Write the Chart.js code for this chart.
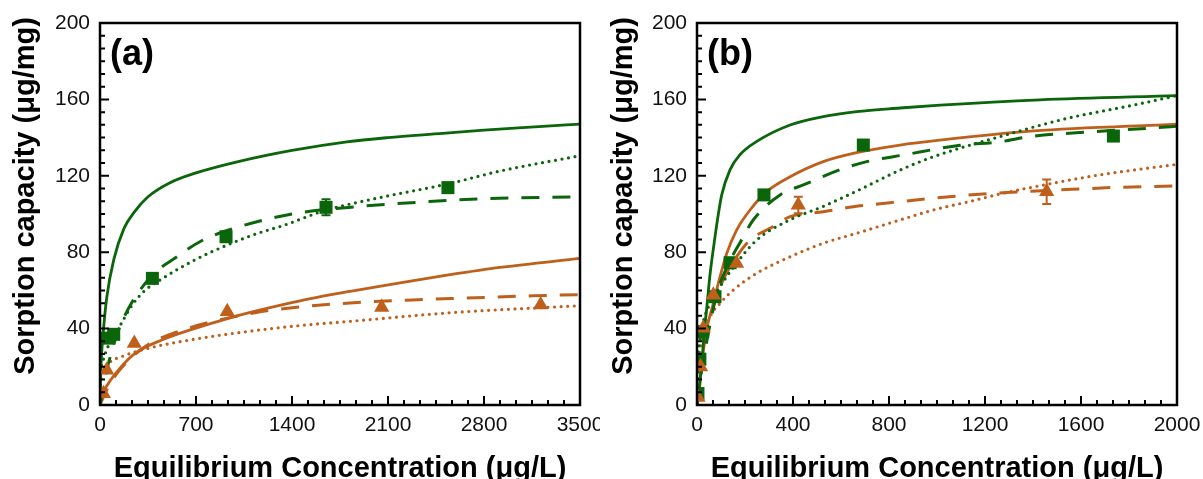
<!DOCTYPE html>
<html>
<head>
<meta charset="utf-8">
<title>Sorption isotherms</title>
<script src="https://cdn.jsdelivr.net/npm/chart.js@4.4.1/dist/chart.umd.min.js"></script>
<style>
  body { margin: 0; background: #fff; }
  .panel { position: absolute; top: 0; }
  #chartA { left: 0; }
  #chartB { left: 600px; }
</style>
</head>
<body>
<canvas id="chartA" class="panel" width="600" height="479"></canvas>
<canvas id="chartB" class="panel" width="603" height="479"></canvas>
<script>
const GREEN = "#0b660b";
const ORANGE = "#bf5f1c";
const FONT = '"Liberation Sans", Arial, sans-serif';

const yTicks = [0, 40, 80, 120, 160, 200];
const xTicksA = [0, 700, 1400, 2100, 2800, 3500];
const xTicksB = [0, 400, 800, 1200, 1600, 2000];

// ---- panel (a): measured points ----
const aGreenX = [55, 100, 382, 919, 1648, 2537];
const aGreenY = [35, 37, 66.3, 88.1, 103.5, 113.8];
const aGreenErr = [0, 0, 0, 0, 4.2, 2.5];
const aOrangeX = [25, 49, 250, 928, 2054, 3213];
const aOrangeY = [6, 18.3, 32.3, 48.9, 51.1, 52.4];
const aOrangeErr = [0, 0, 0, 0, 0, 0];

// ---- panel (a): model curves ----
const aGreenSolidX = [0, 5, 25, 50, 100, 175, 250, 350, 500, 700, 1000, 1400, 1800, 2100, 2500, 2800, 3200, 3500];
const aGreenSolidY = [0, 16, 39, 56.7, 76, 92.5, 101, 109, 116, 121.5, 127.3, 133.3, 137.8, 140, 142.2, 143.9, 145.7, 147.1];
const aGreenDashX = [0, 25, 50, 100, 134, 231, 389, 559, 741, 1000, 1400, 1900, 2400, 2800, 3500];
const aGreenDashY = [0, 10, 18.5, 31.5, 39, 53.5, 68.5, 77.5, 86, 93, 100, 104, 106.5, 108, 109];
const aGreenDotX = [0, 5, 25, 61, 158, 231, 328, 450, 693, 936, 1155, 1337, 1648, 2067, 2552, 2917, 3500];
const aGreenDotY = [0, 15, 24, 31, 43, 52, 60, 66, 76, 84, 90, 94, 102, 109, 116, 122.5, 130.5];
const aOrangeSolidX = [0, 12, 61, 134, 255, 450, 693, 936, 1155, 1458, 1823, 2188, 2552, 2917, 3500];
const aOrangeSolidY = [0, 4.4, 11.3, 18.3, 27, 34, 40.1, 45.4, 49.5, 54.5, 59.5, 64, 68.2, 72, 76.8];
const aOrangeDashX = [0, 50, 134, 328, 571, 1131, 1458, 1946, 2383, 2675, 3160, 3500];
const aOrangeDashY = [0, 8, 17.5, 30.5, 38.5, 48.3, 51.3, 54, 55.3, 56, 57.2, 57.8];
const aOrangeDotX = [0, 3, 12, 61, 158, 352, 693, 1155, 1458, 1823, 2552, 3500];
const aOrangeDotY = [0, 10, 14.5, 21.5, 25.3, 29.7, 34.5, 39.2, 41.6, 43.8, 48.3, 52];

// ---- panel (b): measured points ----
const bGreenX = [4, 12, 24, 75, 138, 279, 693, 1735];
const bGreenY = [6, 24, 38.4, 56.7, 74.5, 110, 136.1, 140.8];
const bGreenErr = [0, 0, 0, 0, 0, 0, 0, 0];
const bOrangeX = [4, 15, 26, 68, 165, 422, 1457];
const bOrangeY = [4, 20, 40.2, 57.6, 74.2, 104.7, 111.7];
const bOrangeErr = [0, 0, 0, 0, 0, 4.3, 6.4];

// ---- panel (b): model curves ----
const bGreenSolidX = [0, 10, 20, 30, 40, 54, 75, 89, 103, 137, 179, 249, 388, 526, 665, 846, 1013, 1429, 2000];
const bGreenSolidY = [0, 10, 22, 38, 50, 68, 88, 100, 110, 123, 131, 138, 146.6, 151, 153.6, 155.5, 157, 159.8, 162];
const bGreenDashX = [0, 10, 20, 40, 82, 124, 179, 235, 346, 443, 596, 707, 874, 1096, 1262, 1387, 1651, 1915, 2000];
const bGreenDashY = [0, 10, 18.5, 33, 58, 72, 85, 97, 110, 115.2, 123.2, 127.4, 131.2, 136, 137.8, 140.5, 143.1, 145.2, 146];
const bGreenDotX = [0, 3, 10, 25, 50, 96, 151, 249, 388, 526, 665, 846, 985, 1262, 1540, 1818, 2000];
const bGreenDotY = [0, 20, 32, 43, 52, 62, 72, 86.4, 97, 104, 112, 123, 130, 140.5, 150, 157, 162];
const bOrangeSolidX = [0, 10, 20, 40, 68, 96, 124, 165, 221, 290, 388, 526, 665, 846, 1013, 1401, 2000];
const bOrangeSolidY = [0, 8, 21.8, 39.3, 53.2, 67.2, 79.4, 91.6, 102.1, 111.7, 119.5, 127.4, 132.1, 136.1, 138.7, 143.5, 147.1];
const bOrangeDashX = [0, 10, 25, 60, 100, 165, 221, 304, 388, 526, 651, 804, 1082, 1290, 1512, 1763, 2000];
const bOrangeDashY = [0, 12, 26, 48, 63, 77.6, 86.4, 92.5, 98.6, 101.2, 103.8, 105.9, 109.4, 111.2, 112.6, 114, 114.7];
const bOrangeDotX = [0, 3, 10, 54, 96, 151, 249, 388, 526, 665, 846, 985, 1151, 1262, 1457, 1679, 2000];
const bOrangeDotY = [0, 19, 27, 46, 53.2, 60.2, 69, 77.6, 84.7, 89.9, 96.9, 102.1, 107, 110.5, 115.5, 120.5, 126];

function pts(xs, ys) {
  return xs.map((x, i) => ({ x: x, y: ys[i] }));
}

const lineStyles = {
  solid: { borderWidth: 2.8, borderDash: [], borderCapStyle: "butt" },
  dash: { borderWidth: 3, borderDash: [18, 13], borderCapStyle: "butt" },
  dot: { borderWidth: 3.2, borderDash: [0, 6.6], borderCapStyle: "round" },
};

function curve(xs, ys, color, style) {
  return Object.assign({
    data: pts(xs, ys),
    showLine: true,
    borderColor: color,
    pointRadius: 0,
    cubicInterpolationMode: "monotone",
    order: 2,
  }, lineStyles[style]);
}

// lower order is painted later, so triangles end up above squares
function markers(xs, ys, errs, color, shape, order) {
  return {
    data: pts(xs, ys),
    errors: errs,
    showLine: false,
    pointStyle: shape,
    pointRadius: shape === "rect" ? 9.2 : 8.8,
    pointBackgroundColor: color,
    pointBorderColor: color,
    pointBorderWidth: 0,
    order: order,
  };
}

// vertical error bars with caps
const errorBars = {
  id: "errorBars",
  afterDatasetsDraw(chart) {
    const ctx = chart.ctx;
    const xs = chart.scales.x, ys = chart.scales.y;
    chart.data.datasets.forEach((ds) => {
      if (!ds.errors) return;
      ctx.save();
      ctx.strokeStyle = ds.pointBackgroundColor;
      ctx.lineWidth = 2;
      ds.data.forEach((p, j) => {
        const e = ds.errors[j];
        if (!e) return;
        const x = xs.getPixelForValue(p.x);
        const y1 = ys.getPixelForValue(p.y + e);
        const y2 = ys.getPixelForValue(p.y - e);
        ctx.beginPath();
        ctx.moveTo(x, y1); ctx.lineTo(x, y2);
        ctx.moveTo(x - 4.5, y1); ctx.lineTo(x + 4.5, y1);
        ctx.moveTo(x - 4.5, y2); ctx.lineTo(x + 4.5, y2);
        ctx.stroke();
      });
      ctx.restore();
    });
  },
};

// box frame, inward ticks (5 minor per major), axis titles, panel tag
function makeFrame(xTicks, tag, yTitleX) {
  return {
    id: "frame",
    afterDraw(chart) {
      const ctx = chart.ctx;
      const a = chart.chartArea;
      const xs = chart.scales.x, ys = chart.scales.y;
      ctx.save();
      ctx.strokeStyle = "#000";
      ctx.lineWidth = 2;
      ctx.beginPath();
      for (let i = 0; i < xTicks.length - 1; i++) {
        const step = (xTicks[i + 1] - xTicks[i]) / 6;
        for (let k = 0; k < 6; k++) {
          const px = xs.getPixelForValue(xTicks[i] + k * step);
          const len = k === 0 ? 9 : 5;
          ctx.moveTo(px, a.bottom); ctx.lineTo(px, a.bottom - len);
        }
      }
      for (let i = 0; i < yTicks.length - 1; i++) {
        const step = (yTicks[i + 1] - yTicks[i]) / 6;
        for (let k = 0; k < 6; k++) {
          const py = ys.getPixelForValue(yTicks[i] + k * step);
          const len = k === 0 ? 9 : 5;
          ctx.moveTo(a.left, py); ctx.lineTo(a.left + len, py);
        }
      }
      ctx.stroke();

      ctx.lineWidth = 2.5;
      ctx.strokeRect(a.left, a.top, a.right - a.left, a.bottom - a.top);

      ctx.fillStyle = "#000";
      ctx.font = "bold 29px " + FONT;
      ctx.textAlign = "center";
      ctx.textBaseline = "alphabetic";
      ctx.fillText("Equilibrium Concentration (\u03bcg/L)", (a.left + a.right) / 2, 477);

      ctx.translate(yTitleX, 196);
      ctx.rotate(-Math.PI / 2);
      ctx.fillText("Sorption capacity (\u03bcg/mg)", 0, 0);
      ctx.setTransform(1, 0, 0, 1, 0, 0);

      ctx.font = "bold 36px " + FONT;
      ctx.textAlign = "left";
      ctx.fillText(tag, a.left + 10, 64.5);
      ctx.restore();
    },
  };
}

function buildChart(id, datasets, xTicks, axisWidth, padRight, tag, yTitleX) {
  return new Chart(document.getElementById(id), {
    type: "scatter",
    data: { datasets: datasets },
    options: {
      responsive: false,
      animation: false,
      layout: { padding: { left: 0, top: 23, right: padRight, bottom: 0 } },
      plugins: { legend: { display: false }, tooltip: { enabled: false } },
      scales: {
        x: {
          type: "linear",
          min: xTicks[0],
          max: xTicks[xTicks.length - 1],
          grid: { display: false, drawTicks: false },
          border: { display: false },
          afterBuildTicks: (s) => { s.ticks = xTicks.map((v) => ({ value: v })); },
          afterFit: (s) => { s.height = 74; s.paddingLeft = 0; s.paddingRight = 0; },
          ticks: {
            color: "#111", padding: 8, maxRotation: 0, autoSkip: false,
            font: { size: 21, family: FONT },
            callback: (v) => String(v),
          },
        },
        y: {
          type: "linear",
          min: 0,
          max: 200,
          grid: { display: false, drawTicks: false },
          border: { display: false },
          afterBuildTicks: (s) => { s.ticks = yTicks.map((v) => ({ value: v })); },
          afterFit: (s) => { s.width = axisWidth; s.paddingTop = 0; s.paddingBottom = 0; },
          ticks: {
            color: "#111", padding: 10,
            font: { size: 21, family: FONT },
            callback: (v) => String(v),
          },
        },
      },
    },
    plugins: [errorBars, makeFrame(xTicks, tag, yTitleX)],
  });
}

buildChart("chartA", [
  curve(aGreenSolidX, aGreenSolidY, GREEN, "solid"),
  curve(aGreenDashX, aGreenDashY, GREEN, "dash"),
  curve(aGreenDotX, aGreenDotY, GREEN, "dot"),
  curve(aOrangeSolidX, aOrangeSolidY, ORANGE, "solid"),
  curve(aOrangeDashX, aOrangeDashY, ORANGE, "dash"),
  curve(aOrangeDotX, aOrangeDotY, ORANGE, "dot"),
  markers(aGreenX, aGreenY, aGreenErr, GREEN, "rect", 1),
  markers(aOrangeX, aOrangeY, aOrangeErr, ORANGE, "triangle", 0),
], xTicksA, 100, 20, "(a)", 34);

buildChart("chartB", [
  curve(bGreenSolidX, bGreenSolidY, GREEN, "solid"),
  curve(bGreenDashX, bGreenDashY, GREEN, "dash"),
  curve(bGreenDotX, bGreenDotY, GREEN, "dot"),
  curve(bOrangeSolidX, bOrangeSolidY, ORANGE, "solid"),
  curve(bOrangeDashX, bOrangeDashY, ORANGE, "dash"),
  curve(bOrangeDotX, bOrangeDotY, ORANGE, "dot"),
  markers(bGreenX, bGreenY, bGreenErr, GREEN, "rect", 1),
  markers(bOrangeX, bOrangeY, bOrangeErr, ORANGE, "triangle", 0),
], xTicksB, 97, 26, "(b)", 32);
</script>
</body>
</html>
